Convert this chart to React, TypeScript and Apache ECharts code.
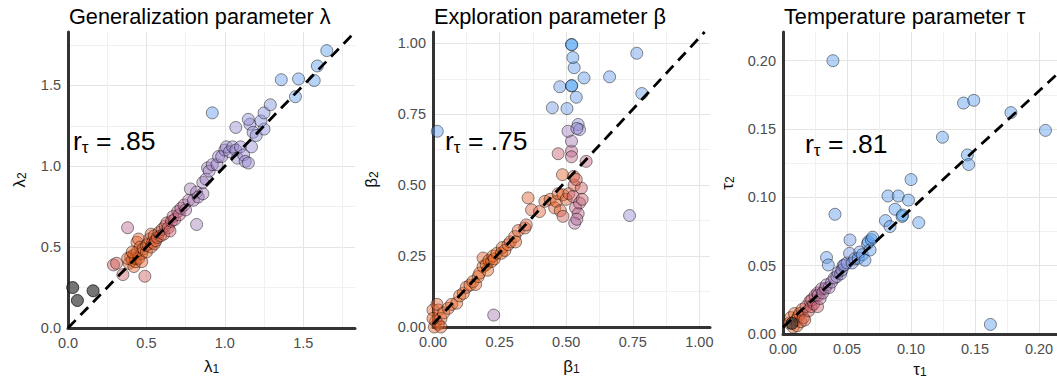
import React, { useEffect, useRef } from 'react';
import * as echarts from 'echarts';

const FONT = 'Liberation Sans, Arial, sans-serif';

// ---- titles, labels ----
const panelTitles = ['Generalization parameter λ', 'Exploration parameter β', 'Temperature parameter τ'];
const paramSymbols = ['λ', 'β', 'τ'];
const correlations = ['.85', '.75', '.81'];

// ---- axis scales ----
const xMax = [1.83, 1.04, 0.214];
const yMax = [1.83, 1.04, 0.221];
const majorStep = [0.5, 0.25, 0.05];
const labelDecimals = [1, 2, 2];

// ---- data: [session 1, session 2, colour value] ----
const lambdaPoints = [
  [0.39, 0.40, 0.04], [0.40, 0.44, 0.02], [0.41, 0.42, 0.0], [0.42, 0.45, 0.02], [0.42, 0.38, 0.04],
  [0.43, 0.41, 0.0], [0.43, 0.43, 0.0], [0.44, 0.47, 0.03], [0.44, 0.53, 0.05], [0.45, 0.43, 0.03],
  [0.45, 0.55, 0.06], [0.46, 0.50, 0.04], [0.47, 0.46, 0.05], [0.47, 0.41, 0.07], [0.48, 0.49, 0.04],
  [0.50, 0.47, 0.06], [0.50, 0.51, 0.05], [0.51, 0.52, 0.06], [0.52, 0.55, 0.07], [0.53, 0.50, 0.08],
  [0.53, 0.58, 0.09], [0.54, 0.53, 0.09], [0.55, 0.57, 0.1], [0.55, 0.52, 0.1], [0.56, 0.54, 0.12],
  [0.57, 0.56, 0.12], [0.58, 0.59, 0.14], [0.59, 0.57, 0.14], [0.38, 0.43, 0.08], [0.41, 0.47, 0.05],
  [0.60, 0.61, 0.18], [0.61, 0.58, 0.2], [0.62, 0.63, 0.22], [0.63, 0.65, 0.25], [0.64, 0.62, 0.26],
  [0.65, 0.60, 0.28], [0.66, 0.66, 0.3], [0.67, 0.69, 0.33], [0.68, 0.67, 0.35], [0.70, 0.72, 0.38],
  [0.71, 0.70, 0.4], [0.72, 0.74, 0.44], [0.74, 0.76, 0.47], [0.75, 0.73, 0.5], [0.77, 0.79, 0.52],
  [0.38, 0.62, 0.42], [0.49, 0.32, 0.25], [0.29, 0.39, 0.25], [0.31, 0.40, 0.22], [0.35, 0.33, 0.25],
  [0.78, 0.86, 0.58], [0.80, 0.79, 0.55], [0.82, 0.84, 0.58], [0.83, 0.81, 0.58], [0.82, 0.64, 0.6],
  [0.86, 0.83, 0.6], [0.86, 0.90, 0.6], [0.88, 0.92, 0.62], [0.89, 0.99, 0.62], [0.90, 0.97, 0.62],
  [0.92, 1.01, 0.62], [0.95, 1.01, 0.64], [0.96, 1.06, 0.64], [0.98, 1.06, 0.64], [1.00, 1.10, 0.65],
  [1.01, 1.12, 0.65], [1.03, 1.09, 0.65], [1.05, 1.12, 0.66], [1.07, 1.10, 0.66], [1.08, 1.05, 0.66],
  [1.10, 1.12, 0.67], [1.12, 1.07, 0.66], [1.13, 1.03, 0.66], [1.15, 1.02, 0.67], [1.17, 1.12, 0.68],
  [1.07, 1.24, 0.7], [1.16, 1.26, 0.7], [1.15, 1.29, 0.72], [1.18, 1.21, 0.72], [1.20, 1.19, 0.72],
  [1.25, 1.23, 0.74], [1.23, 1.28, 0.74], [1.25, 1.33, 0.75], [1.29, 1.38, 0.78],
  [0.92, 1.33, 0.92], [1.36, 1.535, 0.9], [1.47, 1.54, 0.92], [1.45, 1.43, 0.9], [1.57, 1.53, 0.94],
  [1.59, 1.62, 0.95], [1.65, 1.715, 0.96],
];
const lambdaExcluded = [[0.03, 0.25], [0.06, 0.17], [0.16, 0.23]];

const betaPoints = [
  [0.005, 0.0, 0.05], [0.01, 0.02, 0.04], [0.02, 0.01, 0.05], [0.0, 0.06, 0.08], [0.02, 0.06, 0.06],
  [0.03, 0.03, 0.04], [0.015, 0.08, 0.1], [0.03, 0.0, 0.05], [0.0, 0.03, 0.06], [0.04, 0.05, 0.04],
  [0.057, 0.066, 0.05], [0.07, 0.08, 0.04], [0.089, 0.084, 0.04], [0.1, 0.11, 0.03], [0.114, 0.119, 0.03],
  [0.125, 0.14, 0.05], [0.139, 0.148, 0.03], [0.15, 0.16, 0.04], [0.16, 0.15, 0.04], [0.17, 0.178, 0.02],
  [0.175, 0.19, 0.04], [0.188, 0.213, 0.0], [0.188, 0.243, 0.06], [0.2, 0.22, 0.0], [0.205, 0.2, 0.02],
  [0.21, 0.235, 0.0], [0.22, 0.231, 0.0], [0.225, 0.25, 0.02], [0.23, 0.24, 0.03], [0.24, 0.26, 0.02],
  [0.257, 0.26, 0.03], [0.26, 0.28, 0.03], [0.27, 0.27, 0.03], [0.282, 0.29, 0.03], [0.29, 0.3, 0.05],
  [0.307, 0.319, 0.05], [0.31, 0.3, 0.04], [0.32, 0.34, 0.07], [0.345, 0.349, 0.1], [0.35, 0.36, 0.14],
  [0.357, 0.455, 0.08], [0.37, 0.413, 0.12], [0.4, 0.407, 0.1], [0.42, 0.443, 0.06], [0.44, 0.45, 0.06],
  [0.457, 0.42, 0.06], [0.463, 0.443, 0.03], [0.47, 0.47, 0.05], [0.478, 0.41, 0.1], [0.488, 0.466, 0.05],
  [0.488, 0.39, 0.22], [0.5, 0.45, 0.07], [0.51, 0.47, 0.12], [0.526, 0.46, 0.3], [0.53, 0.5, 0.18],
  [0.535, 0.42, 0.36], [0.545, 0.40, 0.4], [0.55, 0.437, 0.42], [0.532, 0.366, 0.5], [0.54, 0.38, 0.46],
  [0.557, 0.49, 0.24], [0.56, 0.45, 0.3], [0.486, 0.537, 0.06], [0.528, 0.531, 0.12], [0.538, 0.52, 0.18],
  [0.575, 0.584, 0.36], [0.47, 0.611, 0.3], [0.52, 0.62, 0.42], [0.52, 0.60, 0.4], [0.52, 0.655, 0.55],
  [0.507, 0.69, 0.6], [0.545, 0.714, 0.72], [0.55, 0.696, 0.7], [0.54, 0.70, 0.68], [0.448, 0.773, 0.85],
  [0.503, 0.77, 0.88], [0.538, 0.81, 0.92], [0.476, 0.847, 0.88], [0.52, 0.85, 1.0], [0.521, 0.851, 1.0],
  [0.567, 0.878, 0.92], [0.53, 0.914, 0.92], [0.525, 0.95, 0.92], [0.52, 0.996, 1.0], [0.521, 0.995, 1.0],
  [0.663, 0.882, 0.9], [0.765, 0.965, 0.9], [0.784, 0.823, 0.9], [0.016, 0.69, 0.92], [0.738, 0.393, 0.7],
  [0.228, 0.042, 0.55],
];

const tauPoints = [
  [0.005, 0.008, 0.02], [0.006, 0.012, 0.02], [0.008, 0.005, 0.04], [0.009, 0.015, 0.06], [0.01, 0.01, 0.04],
  [0.011, 0.006, 0.06], [0.012, 0.013, 0.08], [0.013, 0.015, 0.08], [0.014, 0.009, 0.1], [0.015, 0.018, 0.12],
  [0.016, 0.012, 0.15], [0.017, 0.0102, 0.15], [0.018, 0.02, 0.2], [0.02, 0.017, 0.22], [0.021, 0.024, 0.28],
  [0.022, 0.02, 0.28], [0.0224, 0.0249, 0.33], [0.024, 0.022, 0.33], [0.025, 0.028, 0.4], [0.027, 0.02, 0.3],
  [0.027, 0.03, 0.42], [0.0276, 0.0285, 0.45], [0.029, 0.026, 0.45], [0.03, 0.033, 0.48], [0.031, 0.03, 0.5],
  [0.033, 0.0334, 0.52], [0.034, 0.036, 0.55], [0.036, 0.034, 0.55], [0.038, 0.038, 0.6], [0.04, 0.041, 0.62],
  [0.042, 0.042, 0.65], [0.043, 0.045, 0.68], [0.045, 0.044, 0.7], [0.046, 0.0468, 0.72], [0.047, 0.05, 0.74],
  [0.048, 0.0505, 0.75], [0.05, 0.052, 0.78], [0.052, 0.059, 0.8], [0.0523, 0.0688, 0.85], [0.054, 0.052, 0.8],
  [0.056, 0.055, 0.85], [0.0588, 0.0554, 0.88], [0.06, 0.06, 0.88], [0.062, 0.058, 0.9], [0.064, 0.054, 0.92],
  [0.066, 0.066, 0.92], [0.0667, 0.0676, 0.95], [0.068, 0.0615, 0.95], [0.069, 0.069, 0.95], [0.070, 0.0708, 0.95],
  [0.034, 0.056, 0.9], [0.0354, 0.0505, 0.9], [0.0406, 0.0876, 0.92], [0.080, 0.083, 0.95], [0.0836, 0.0786, 0.95],
  [0.082, 0.101, 0.95], [0.09, 0.101, 0.95], [0.098, 0.098, 0.95], [0.0875, 0.0913, 0.95], [0.093, 0.086, 1.0],
  [0.0935, 0.087, 1.0], [0.106, 0.0815, 0.95], [0.10, 0.113, 0.95], [0.1245, 0.144, 0.95], [0.144, 0.131, 0.95],
  [0.145, 0.124, 0.95], [0.141, 0.169, 0.95], [0.149, 0.171, 0.95], [0.178, 0.162, 0.95], [0.205, 0.149, 0.95],
  [0.039, 0.20, 0.95], [0.162, 0.007, 0.95],
];
const tauExcluded = [[0.007, 0.0078]];

// reference (dashed) lines, endpoints
const lambdaRefLine = [[0, 0], [1.83, 1.83]];
const betaRefLine = [[0, 0.01], [1.02, 1.04]];
const tauRefLine = [[0, 0.005], [0.214, 0.19]];

const pointSets = [lambdaPoints, betaPoints, tauPoints];
const excludedSets = [lambdaExcluded, [], tauExcluded];
const refLines = [lambdaRefLine, betaRefLine, tauRefLine];

const colourStops = ['#E8651F', '#C45E78', '#9A8AD0', '#4DA2F2'];

// ---- layout ----
const grids = [
  { left: 68, top: 32, width: 287, height: 296, outerBoundsMode: 'none', containLabel: false },
  { left: 433, top: 32, width: 277, height: 295, outerBoundsMode: 'none', containLabel: false },
  { left: 783, top: 32, width: 274, height: 302, outerBoundsMode: 'none', containLabel: false },
];
const xNameGap = [29, 30, 23];
const yNameGap = [40, 53, 47];
const annotPos = [[73, 126], [445, 126], [805, 129]];

function labelFormatter(step: number, dec: number) {
  return (v: number) => {
    const r = v / step;
    return Math.abs(r - Math.round(r)) < 1e-6 ? v.toFixed(dec) : '';
  };
}

function nameRich() {
  return {
    fontFamily: FONT,
    rich: {
      a: { fontSize: 17, fontFamily: FONT, lineHeight: 18, verticalAlign: 'middle', color: '#111' },
      s: { fontSize: 12, fontFamily: FONT, lineHeight: 12, verticalAlign: 'bottom', color: '#111' },
    },
  };
}

function axisCommon(i: number, max: number) {
  return {
    gridIndex: i,
    type: 'value',
    min: 0,
    max,
    interval: majorStep[i] / 2,
    axisLine: { show: true, onZero: false, lineStyle: { color: '#333333', width: 3 } },
    axisTick: { show: false },
    axisLabel: {
      formatter: labelFormatter(majorStep[i], labelDecimals[i]),
      color: '#4d4d4d',
      fontSize: 14.5,
      fontFamily: FONT,
      margin: 7,
      showMinLabel: true,
      showMaxLabel: false,
    },
    splitLine: {
      show: true,
      showMinLine: true,
      showMaxLine: false,
      lineStyle: { color: ['#e4e4e4', '#f0f0f0'], width: 1 },
    },
    nameLocation: 'middle',
    nameTextStyle: nameRich(),
  };
}

export default function App() {
  const ref = useRef<HTMLDivElement>(null);
  useEffect(() => {
    if (!ref.current) return;
    const chart = echarts.init(ref.current, undefined, { renderer: 'svg' });
    const series: any[] = [];
    const visualMaps: any[] = [];
    [0, 1, 2].forEach((i) => {
      visualMaps.push({
        show: false,
        type: 'continuous',
        seriesIndex: series.length,
        dimension: 2,
        min: 0,
        max: 1,
        inRange: { color: colourStops },
      });
      series.push({
        type: 'scatter',
        xAxisIndex: i,
        yAxisIndex: i,
        data: pointSets[i],
        symbolSize: 12,
        itemStyle: { opacity: 0.45, borderColor: '#000', borderWidth: 1 },
        z: 2,
      });
      series.push({
        type: 'scatter',
        xAxisIndex: i,
        yAxisIndex: i,
        data: excludedSets[i],
        symbolSize: 12,
        itemStyle: { color: '#3a3a3a', opacity: 0.7, borderColor: '#000', borderWidth: 1 },
        z: 3,
      });
      series.push({
        type: 'line',
        xAxisIndex: i,
        yAxisIndex: i,
        data: refLines[i],
        symbol: 'none',
        lineStyle: { color: '#000', width: 2.8, type: [11, 7] },
        z: 5,
      });
    });

    chart.setOption({
      animation: false,
      backgroundColor: '#ffffff',
      title: panelTitles.map((t, i) => ({
        text: t,
        left: grids[i].left + 1,
        top: 5,
        padding: 0,
        textStyle: { fontFamily: FONT, fontSize: 21.7, fontWeight: 'normal', color: '#000' },
      })),
      grid: grids,
      xAxis: [0, 1, 2].map((i) => ({
        ...axisCommon(i, xMax[i]),
        name: `{a|${paramSymbols[i]}}{s|1}`,
        nameGap: xNameGap[i],
      })),
      yAxis: [0, 1, 2].map((i) => ({
        ...axisCommon(i, yMax[i]),
        name: `{a|${paramSymbols[i]}}{s|2}`,
        nameGap: yNameGap[i],
      })),
      visualMap: visualMaps,
      series,
      graphic: annotPos.map(([x, y], i) => ({
        type: 'text',
        x,
        y,
        z: 100,
        style: {
          text: `{a|r}{s|τ}{a| = ${correlations[i]}}`,
          align: 'left',
          verticalAlign: 'top',
          rich: {
            a: { fontSize: 26.5, fontFamily: FONT, lineHeight: 30, verticalAlign: 'middle', fill: '#000' },
            s: { fontSize: 17, fontFamily: FONT, lineHeight: 10, verticalAlign: 'bottom', fill: '#000' },
          },
        },
      })),
    });
    return () => chart.dispose();
  }, []);
  return (
    <div
      ref={ref}
      style={{ position: 'absolute', left: 0, top: 0, width: 1057, height: 379, background: '#fff' }}
    />
  );
}
